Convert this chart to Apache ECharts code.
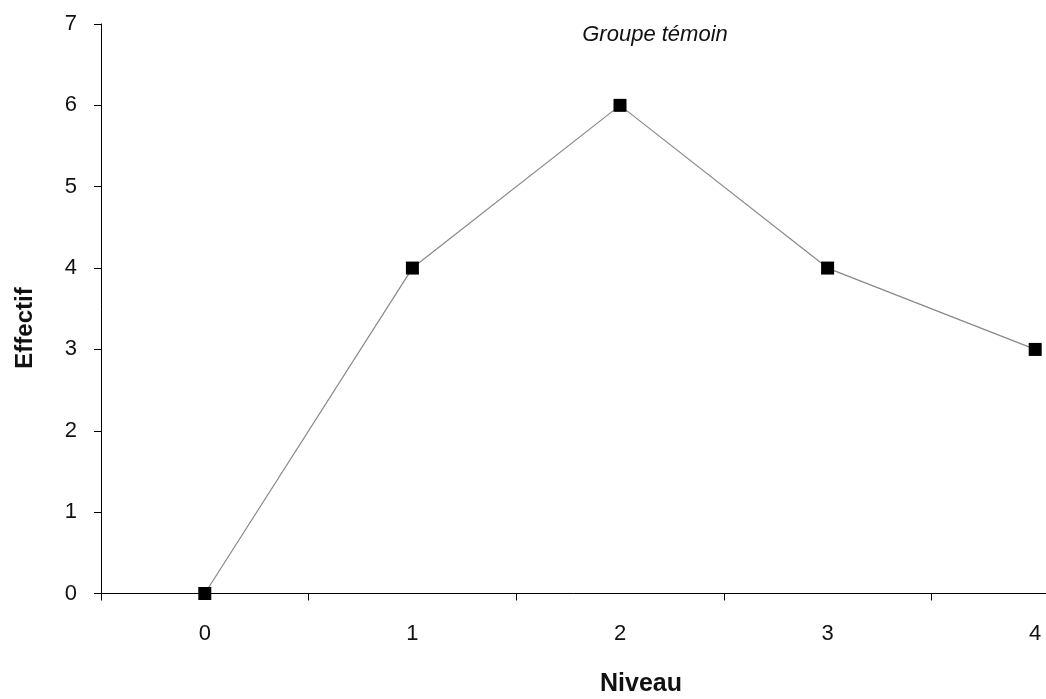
<!DOCTYPE html>
<html>
<head>
<meta charset="utf-8">
<script src="https://cdn.jsdelivr.net/npm/echarts@6/dist/echarts.min.js"></script>
<style>
  html, body { margin: 0; padding: 0; background: #fff; }
  #chart { width: 1046px; height: 699px; }
</style>
</head>
<body>
<div id="chart"></div>
<script>
  // données
  var niveaux = ['0', '1', '2', '3', '4']
  var effectifs = [0, 4, 6, 4, 3]
  var yTicks = { min: 0, max: 7, step: 1 }

  var fontFamily = '"Liberation Sans", Arial, sans-serif'
  var chart = echarts.init(document.getElementById('chart'))

  chart.setOption({
    backgroundColor: '#fff',
    animation: false,
    graphic: [
      { // titre du graphique
        type: 'text',
        x: 655, y: 35,
        style: {
          text: 'Groupe témoin',
          fill: '#111',
          font: 'italic 22px "Liberation Sans", Arial, sans-serif',
          align: 'center',
          verticalAlign: 'middle'
        }
      },
      { // titre axe x
        type: 'text',
        x: 641, y: 684,
        style: {
          text: 'Niveau',
          fill: '#111',
          font: 'bold 25px "Liberation Sans", Arial, sans-serif',
          align: 'center',
          verticalAlign: 'middle'
        }
      },
      { // titre axe y
        type: 'text',
        x: 25, y: 328,
        rotation: Math.PI / 2,
        style: {
          text: 'Effectif',
          fill: '#111',
          font: 'bold 24px "Liberation Sans", Arial, sans-serif',
          align: 'center',
          verticalAlign: 'middle'
        }
      }
    ],
    grid: {
      left: 101,
      width: 1038, // l'axe continue au-delà du bord droit
      top: 24,
      bottom: 105.5,
      outerBoundsMode: 'none',
      containLabel: false
    },
    xAxis: {
      type: 'category',
      data: niveaux,
      boundaryGap: true,
      axisLine: { lineStyle: { color: '#000', width: 1 } },
      axisTick: { show: true, length: 7, lineStyle: { color: '#000' } },
      axisLabel: { margin: 29, fontFamily: fontFamily, fontSize: 22, color: '#111' },
      splitLine: { show: false }
    },
    yAxis: {
      type: 'value',
      min: yTicks.min,
      max: yTicks.max,
      interval: yTicks.step,
      axisLine: { show: true, lineStyle: { color: '#000', width: 1 } },
      axisTick: { show: true, length: 7, lineStyle: { color: '#000' } },
      axisLabel: { margin: 24, fontFamily: fontFamily, fontSize: 22, color: '#111' },
      splitLine: { show: false }
    },
    series: [{
      type: 'line',
      data: effectifs,
      symbol: 'rect',
      symbolSize: 13,
      itemStyle: { color: '#000' },
      lineStyle: { color: '#888', width: 1.2 }
    }]
  })
</script>
</body>
</html>
